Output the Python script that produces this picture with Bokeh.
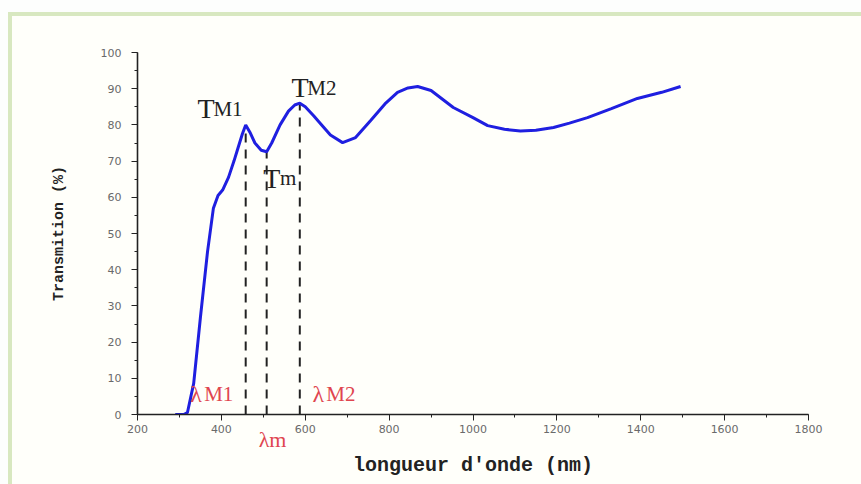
from bokeh.plotting import figure
from bokeh.models import Range1d, SingleIntervalTicker, FixedTicker, Label, LinearAxis
from bokeh.embed import file_html
from bokeh.resources import INLINE

# ---- data ----
wavelength = [290, 300, 310, 319, 334, 350, 367, 381, 392, 403, 417, 430, 438, 450, 458,
              468, 480, 495, 508, 520, 540, 560, 575, 587, 600, 620, 636, 660, 689, 720,
              756, 790, 820, 845, 868, 900, 953, 1000, 1035, 1075, 1113, 1150, 1192, 1230,
              1273, 1330, 1392, 1450, 1495]
transmission = [0, 0, 0, 0.5, 8.6, 26.8, 45, 57, 60.5, 62, 65.5, 70, 73, 77.5, 80,
                78, 75, 73, 72.6, 75, 80, 83.8, 85.5, 86, 85, 82.5, 80.4, 77.2, 75.1, 76.5,
                81.2, 85.8, 89, 90.2, 90.6, 89.5, 84.8, 82, 79.8, 78.8, 78.3, 78.5, 79.3, 80.5,
                82, 84.5, 87.3, 89, 90.6]

marker_lambda = [458, 508, 587]
marker_T = [80, 72.6, 86]
lambda_m_label_pos = 522

x_ticks_interval = 200
y_ticks_interval = 10

p = figure(width=861, height=484, output_backend="svg", toolbar_location=None,
           x_range=Range1d(200, 1800), y_range=Range1d(0, 100),
           min_border_left=137, min_border_right=53, min_border_top=52, min_border_bottom=70)

p.background_fill_color = "#fffffa"
p.border_fill_alpha = 0
p.outline_line_color = None
p.xgrid.visible = False
p.ygrid.visible = False
# decorative light-green frame of the original picture (drawn by CSS behind the canvas)
p.styles = {"background-color": "#fffffa",
            "box-shadow": "inset 8px 12px 0 0 #fdfefd, inset 12px 16px 0 0 #d8e8c0"}

for ax, interval in ((p.xaxis[0], x_ticks_interval), (p.yaxis[0], y_ticks_interval)):
    ax.ticker = SingleIntervalTicker(interval=interval, num_minor_ticks=2)
    ax.axis_line_color = "#222222"
    ax.axis_line_width = 1.6
    ax.major_tick_line_color = "#222222"
    ax.minor_tick_line_color = "#222222"
    ax.major_tick_in = 0
    ax.major_tick_out = 6
    ax.minor_tick_in = 0
    ax.minor_tick_out = 3
    ax.major_label_text_font = "DejaVu Sans"
    ax.major_label_text_font_size = "11px"
    ax.major_label_text_color = "#6a6a6a"
    ax.axis_label_text_font = "Liberation Mono"
    ax.axis_label_text_font_style = "bold"
    ax.axis_label_text_color = "#222222"

p.xaxis.major_label_standoff = 4

p.yaxis.axis_label = "Transmition (%)"
p.yaxis.axis_label_text_font_size = "15px"
p.yaxis.major_label_standoff = 10
p.yaxis.axis_label_standoff = 30

# second (invisible) bottom axis carrying the λm mark and the x title
lam_axis = LinearAxis(ticker=FixedTicker(ticks=[lambda_m_label_pos]),
                      major_label_overrides={lambda_m_label_pos: "λm"})
lam_axis.axis_line_color = None
lam_axis.major_tick_line_color = None
lam_axis.minor_tick_line_color = None
lam_axis.major_tick_out = 0
lam_axis.major_tick_in = 0
lam_axis.major_label_text_font = "Liberation Serif"
lam_axis.major_label_text_font_size = "22px"
lam_axis.major_label_text_color = "#e0454f"
lam_axis.major_label_standoff = -9
lam_axis.axis_label = "longueur d'onde (nm)"
lam_axis.axis_label_text_font = "Liberation Mono"
lam_axis.axis_label_text_font_style = "bold"
lam_axis.axis_label_text_font_size = "20px"
lam_axis.axis_label_text_color = "#222222"
lam_axis.axis_label_standoff = -1
p.add_layout(lam_axis, "below")

# dashed markers
p.segment(x0=marker_lambda, y0=[0, 0, 0], x1=marker_lambda, y1=marker_T,
          line_color="#222222", line_width=2, line_dash="9 7")

# curve
p.line(wavelength, transmission, line_color="#1f1fe0", line_width=3)

# annotations
def lab(x, y, text, size, color="#222222"):
    p.add_layout(Label(x=x, y=y, text=text, text_font="Liberation Serif",
                       text_font_size=size, text_color=color,
                       text_align="left", text_baseline="alphabetic"))

lab(343, 84.5, "T", "28px")
lab(381, 84.5, "M1", "21px")
lab(567, 90.3, "T", "28px")
lab(605, 90.3, "M2", "21px")
lab(500, 65.3, "T", "28px")
lab(540, 65.3, "m", "21px")

red = "#e0454f"
lab(326, 5.6, "λ", "24px", red)
lab(359, 5.6, "M1", "21px", red)
lab(617, 5.6, "λ", "24px", red)
lab(650, 5.6, "M2", "21px", red)

open("out.html", "w").write(file_html(p, INLINE))
